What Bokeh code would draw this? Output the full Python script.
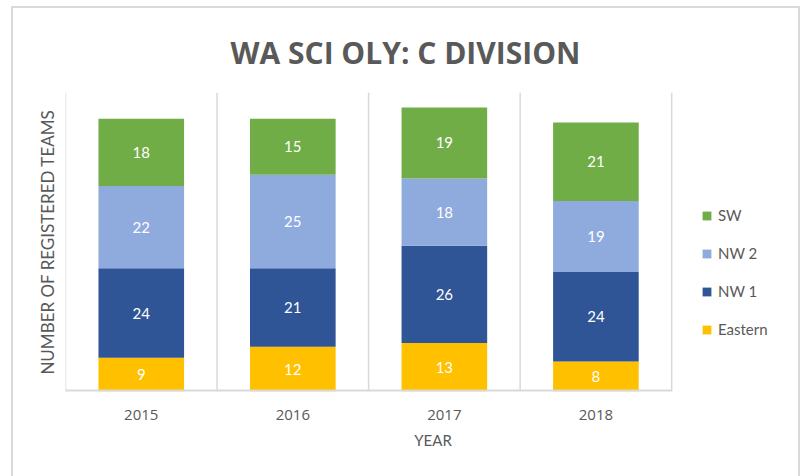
from bokeh.plotting import figure
from bokeh.models import Range1d, Span, Legend, LegendItem, ColumnDataSource, Title, FixedTicker
from bokeh.core.properties import value
from bokeh.embed import file_html
from bokeh.resources import INLINE

years = ["2015", "2016", "2017", "2018"]
series = ["Eastern", "NW 1", "NW 2", "SW"]
eastern = [9, 12, 13, 8]
nw1 = [24, 21, 26, 24]
nw2 = [22, 25, 18, 19]
sw = [18, 15, 19, 21]
colors = ["#FFC000", "#2F5597", "#8FAADC", "#70AD47"]

GRAY = "#595959"
LINE = "#D9D9D9"

xpos = [i + 0.5 for i in range(len(years))]
data = {"x": xpos, "Eastern": eastern, "NW 1": nw1, "NW 2": nw2, "SW": sw}
src = ColumnDataSource(data)

p = figure(x_range=Range1d(0, 4.85), y_range=Range1d(0, 80),
           width=789, height=470, margin=(6, 0, 0, 11),
           output_backend="svg", toolbar_location=None,
           min_border_left=52, min_border_right=2, min_border_top=84, min_border_bottom=87,
           styles={"border-top": "2px solid #D9D9D9", "border-left": "2px solid #D9D9D9",
                   "border-right": "2px solid #D9D9D9"})
p.title = Title(text="WA SCI OLY:  C DIVISION", align="left", text_font="Open Sans",
                text_font_size="30px", text_font_style="bold", text_color=GRAY,
                standoff=40, offset=165)
p.outline_line_color = None
p.xgrid.visible = False
p.ygrid.visible = False

renderers = p.vbar_stack(series, x="x", width=0.565, color=colors, line_color=None, source=src)

# separators between categories and bottom baseline
for loc in range(len(years) + 1):
    p.add_layout(Span(location=loc, dimension="height", line_color=LINE, line_width=1.5))
p.segment(x0=[0], y0=[0], x1=[len(years)], y1=[0], line_color=LINE, line_width=4)

# segment labels
lx, ly, lt = [], [], []
for i in range(len(years)):
    base = 0
    for s in series:
        v = data[s][i]
        lx.append(xpos[i])
        ly.append(base + v / 2)
        lt.append(str(v))
        base += v
p.text(x=lx, y=ly, text=lt, text_align="center", text_baseline="middle",
       text_color="white", text_font=value("Lato"), text_font_size="15px")

# axes
xa = p.xaxis[0]
xa.ticker = FixedTicker(ticks=xpos)
xa.major_label_overrides = {x: y for x, y in zip(xpos, years)}
xa.axis_line_color = None
xa.major_tick_line_color = None
xa.minor_tick_line_color = None
xa.major_label_text_font = "Open Sans"
xa.major_label_text_font_size = "15px"
xa.major_label_text_color = GRAY
xa.major_label_standoff = 12
xa.axis_label = "YEAR"
xa.axis_label_text_font = "Lato"
xa.axis_label_text_font_size = "15px"
xa.axis_label_text_font_style = "normal"
xa.axis_label_text_color = GRAY
xa.axis_label_standoff = 8

ya = p.yaxis[0]
ya.ticker = FixedTicker(ticks=[])
ya.axis_line_color = None
ya.major_tick_line_color = None
ya.minor_tick_line_color = None
ya.axis_label = "NUMBER OF REGISTERED TEAMS"
ya.axis_label_text_font = "Lato"
ya.axis_label_text_font_size = "17px"
ya.axis_label_text_font_style = "normal"
ya.axis_label_text_color = GRAY
ya.axis_label_standoff = 8

items = [LegendItem(label=s, renderers=[r]) for s, r in zip(series, renderers)][::-1]
legend = Legend(items=items, location=(636, 52), orientation="vertical",
                glyph_width=11, glyph_height=11, label_height=20, spacing=18,
                label_standoff=6, padding=0, margin=0, border_line_color=None,
                background_fill_alpha=0, label_text_font="Lato",
                label_text_font_size="15px", label_text_color=GRAY)
p.add_layout(legend, "center")

open("out.html", "w").write(file_html(p, INLINE))
